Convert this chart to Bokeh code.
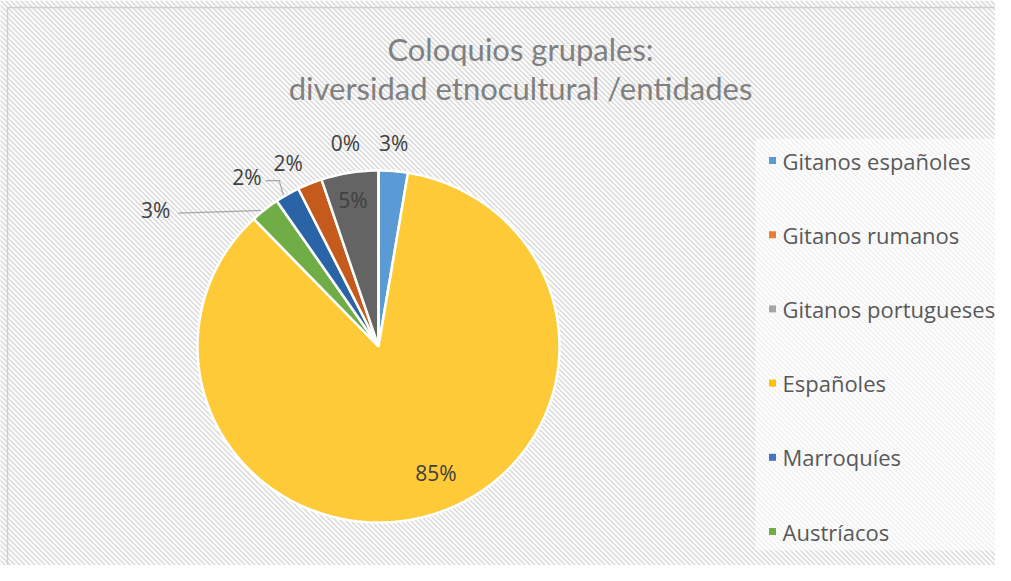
import numpy as np
from bokeh.plotting import figure
from bokeh.models import ColumnDataSource, Range1d
from bokeh.core.properties import value
from bokeh.embed import file_html
from bokeh.resources import INLINE

# ---------------- data (clockwise from 12 o'clock) ----------------
slice_names = ["Gitanos españoles", "Españoles", "Austríacos", "Marroquíes",
               "Gitanos rumanos", "Gitanos portugueses", "(sin dato)"]
slice_values = [2.6, 85.3, 2.6, 2.2, 2.2, 5.1, 0.0]
slice_labels = ["3%", "85%", "3%", "2%", "2%", "5%", "0%"]
slice_colors = ["#5B9BD5", "#FFCA38", "#70AD47", "#2B64A6", "#C45A1C", "#646464", "#999999"]

legend_names = ["Gitanos españoles", "Gitanos rumanos", "Gitanos portugueses",
                "Españoles", "Marroquíes", "Austríacos"]
legend_colors = ["#5B9BD5", "#ED7D31", "#A5A5A5", "#FFC000", "#4472C4", "#70AD47"]

title_lines = ["Coloquios grupales:", "diversidad etnocultural /entidades"]

# ---------------- layout ----------------
W, H = 995, 565
OFF = 0
def X(px):
    return np.asarray(px, dtype=float) - OFF
def Y(py):
    return H - (np.asarray(py, dtype=float) - OFF)

cx, cy, rx, ry = 378, 346, 181, 176

p = figure(width=W, height=H, output_backend="svg", toolbar_location=None,
           x_range=Range1d(0, W), y_range=Range1d(0, H), min_border=0)
p.axis.visible = False
p.grid.visible = False
p.outline_line_color = None
p.background_fill_color = "white"
p.border_fill_color = "white"

# diagonal stripe background (decoration)
step = 5
starts_x = np.arange(-H - 10, W + 10, step)
sx = [list(X([s, s + H + 20])) for s in starts_x]
sy = [list(Y([0, H + 20])) for s in starts_x]
p.multi_line(sx, sy, line_color="#dedede", line_width=1.8)

# chart border
p.line(X([7, 7, W + 20]), Y([H + 20, 7, 7]), line_color="#d0d0d0", line_width=1.5)

# legend panel (lighter)
p.quad(left=[X(755)], right=[X(1001)], bottom=[Y(550)], top=[Y(138)],
       fill_color="white", fill_alpha=0.6, line_color=None)

# ---------------- pie ----------------
vals = np.array(slice_values)
frac = vals / vals.sum()
ends = np.cumsum(frac) * 2 * np.pi
starts = ends - frac * 2 * np.pi
xs, ys = [], []
for a0, a1 in zip(starts, ends):
    t = np.linspace(a0, a1, max(int((a1 - a0) * 60), 2))
    px = np.concatenate([[cx], cx + rx * np.sin(t), [cx]])
    py = np.concatenate([[cy], cy - ry * np.cos(t), [cy]])
    xs.append(list(X(px)))
    ys.append(list(Y(py)))
src = ColumnDataSource(dict(xs=xs, ys=ys, color=slice_colors))
p.patches("xs", "ys", source=src, fill_color="color", line_color="white", line_width=2.5)

# ---------------- data labels ----------------
mid = (starts + ends) / 2
# (radius factor, dx, dy) per label, pixel offsets for layout
lab_layout = [(1.17, -2, 2), (0.74, 18, 2), (1.17, -90, 24), (1.17, -25, 8),
              (1.17, -10, 7), (0.85, -1, 1), (1.17, -33, 2)]
lx, ly = [], []
for m, (rf, dx, dy) in zip(mid, lab_layout):
    lx.append(cx + rf * rx * np.sin(m) + dx)
    ly.append(cy - rf * ry * np.cos(m) + dy)
lab_src = ColumnDataSource(dict(x=X(lx), y=Y(ly), text=slice_labels))
p.text(x="x", y="y", text="text", source=lab_src, text_align="center",
       text_baseline="middle", text_font=value("Open Sans"), text_font_size="21px",
       text_color="#404040")

# leader lines for green and dark blue
def edge(i):
    m = mid[i]
    return cx + rx * np.sin(m), cy - ry * np.cos(m)
gx, gy = edge(2)
p.line(X([lx[2] + 23, gx - 4]), Y([ly[2] + 3, gy + 1]), line_color="#a6a6a6", line_width=1.2)
bx, by = edge(3)
p.line(X([lx[3] + 19, bx - 8, bx - 4]), Y([ly[3] + 4, ly[3] + 4, by + 1]),
       line_color="#a6a6a6", line_width=1.2)

# ---------------- legend ----------------
leg_y = 160 + 74.2 * np.arange(len(legend_names))
p.rect(x=X([772] * len(legend_names)), y=Y(leg_y), width=7, height=7,
       fill_color=legend_colors, line_color=None)
p.text(x=X([782] * len(legend_names)), y=Y(leg_y), text=legend_names,
       text_baseline="middle", text_font=value("Open Sans"), text_font_size="22px",
       text_color="#595959")

# ---------------- title ----------------
p.text(x=X([520, 520]), y=Y([48, 87]), text=title_lines, text_align="center",
       text_baseline="middle", text_font=value("Lato"), text_font_size="31px",
       text_color="#808080")

open("out.html", "w").write(file_html(p, INLINE))
